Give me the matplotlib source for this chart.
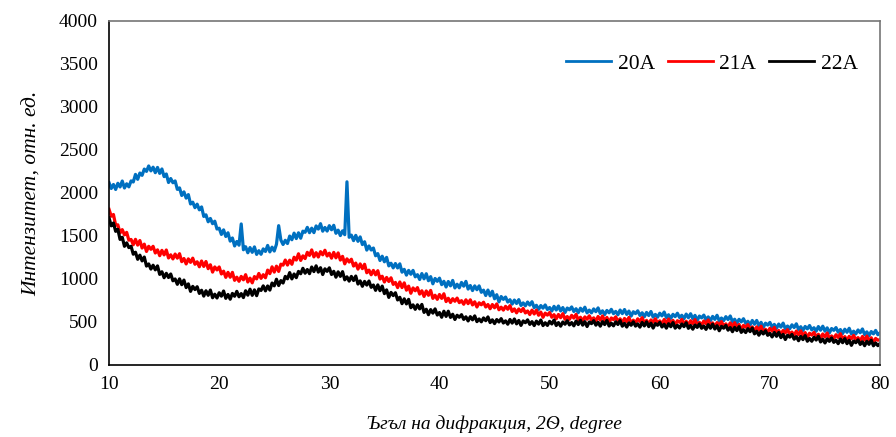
import numpy as np
import matplotlib
matplotlib.use("Agg")
import matplotlib.pyplot as plt

plt.rcParams['font.family'] = ['Liberation Serif', 'DejaVu Serif']

# scan positions, 2theta step 0.2 deg
two_theta = np.linspace(10, 80, 351)

s20A = [
    2120, 2052, 2099, 2041, 2113,
    2070, 2139, 2058, 2107, 2071,
    2140, 2128, 2216, 2159, 2232,
    2205, 2278, 2251, 2314, 2257,
    2300, 2236, 2297, 2228, 2279,
    2190, 2221, 2122, 2168, 2119,
    2140, 2042, 2059, 1971, 2013,
    1940, 1981, 1872, 1893, 1829,
    1870, 1804, 1838, 1727, 1746,
    1665, 1704, 1643, 1672, 1581,
    1590, 1518, 1571, 1494, 1537,
    1440, 1477, 1384, 1436, 1393,
    1640, 1340, 1375, 1305, 1365,
    1310, 1373, 1286, 1329, 1287,
    1350, 1320, 1390, 1315, 1370,
    1325, 1404, 1620, 1452, 1401,
    1450, 1412, 1499, 1456, 1533,
    1470, 1537, 1474, 1556, 1543,
    1600, 1538, 1591, 1539, 1617,
    1580, 1643, 1556, 1599, 1557,
    1620, 1572, 1624, 1531, 1568,
    1505, 1560, 1515, 2130, 1485,
    1510, 1446, 1507, 1438, 1489,
    1400, 1433, 1336, 1384, 1337,
    1360, 1270, 1295, 1215, 1265,
    1200, 1251, 1152, 1183, 1129,
    1180, 1128, 1176, 1079, 1112,
    1045, 1100, 1055, 1100, 1025,
    1050, 994, 1063, 1002, 1061,
    980, 1027, 944, 1006, 973,
    1010, 934, 973, 907, 971,
    920, 983, 896, 939, 897,
    960, 916, 972, 883, 924,
    865, 920, 875, 920, 845,
    870, 808, 871, 804, 857,
    770, 817, 734, 796, 763,
    790, 732, 759, 708, 755,
    715, 760, 692, 722, 688,
    732, 696, 736, 666, 694,
    646, 691, 661, 698, 645,
    668, 628, 682, 639, 686,
    628, 668, 610, 662, 642,
    675, 622, 654, 608, 660,
    625, 672, 606, 638, 606,
    652, 620, 664, 598, 630,
    586, 634, 607, 647, 597,
    623, 584, 639, 597, 645,
    588, 627, 568, 619, 598,
    630, 576, 607, 560, 611,
    575, 622, 556, 588, 556,
    602, 571, 616, 551, 584,
    541, 589, 562, 602, 552,
    578, 538, 592, 549, 596,
    538, 577, 518, 569, 548,
    580, 527, 559, 513, 565,
    530, 578, 513, 546, 515,
    562, 528, 570, 502, 532,
    486, 531, 501, 538, 485,
    508, 466, 518, 473, 518,
    458, 496, 436, 486, 464,
    495, 441, 472, 425, 476,
    440, 487, 421, 453, 421,
    467, 435, 479, 413, 445,
    401, 448, 420, 459, 408,
    433, 393, 447, 404, 451,
    393, 432, 373, 424, 403,
    435, 381, 412, 365, 416,
    380, 427, 361, 393, 361,
    407, 375, 419, 353, 385,
    341, 389, 362, 402, 352,
    375,
]

s21A = [
    1810, 1730, 1750, 1625, 1630,
    1535, 1574, 1513, 1542, 1451,
    1460, 1398, 1461, 1394, 1447,
    1360, 1405, 1320, 1380, 1345,
    1380, 1302, 1339, 1271, 1333,
    1280, 1337, 1244, 1281, 1233,
    1290, 1242, 1294, 1201, 1238,
    1175, 1234, 1193, 1242, 1171,
    1200, 1142, 1209, 1146, 1203,
    1120, 1165, 1080, 1140, 1105,
    1140, 1058, 1091, 1019, 1077,
    1020, 1077, 984, 1021, 973,
    1030, 990, 1050, 965, 1010,
    955, 1028, 1001, 1064, 1007,
    1050, 1014, 1103, 1062, 1141,
    1080, 1149, 1088, 1172, 1161,
    1220, 1162, 1219, 1171, 1253,
    1220, 1293, 1216, 1269, 1237,
    1310, 1274, 1338, 1257, 1306,
    1255, 1318, 1281, 1334, 1267,
    1300, 1242, 1309, 1246, 1303,
    1220, 1263, 1176, 1234, 1197,
    1230, 1150, 1185, 1115, 1175,
    1120, 1171, 1072, 1103, 1049,
    1100, 1048, 1096, 999, 1032,
    965, 1018, 971, 1014, 937,
    960, 900, 965, 900, 955,
    870, 917, 834, 896, 863,
    900, 824, 863, 797, 861,
    810, 867, 774, 811, 763,
    820, 774, 828, 737, 776,
    726, 771, 741, 778, 725,
    748, 706, 758, 713, 758,
    698, 735, 674, 723, 700,
    730, 674, 703, 654, 703,
    665, 710, 642, 672, 638,
    682, 648, 690, 622, 652,
    606, 651, 621, 658, 605,
    628, 586, 638, 593, 638,
    578, 615, 554, 603, 580,
    610, 555, 585, 537, 587,
    550, 597, 531, 563, 531,
    577, 545, 589, 523, 555,
    511, 559, 532, 572, 522,
    548, 509, 564, 522, 570,
    513, 553, 495, 547, 527,
    560, 506, 537, 490, 541,
    505, 553, 488, 521, 490,
    537, 506, 551, 486, 519,
    476, 524, 497, 537, 487,
    513, 474, 529, 487, 535,
    478, 519, 462, 515, 496,
    530, 477, 509, 463, 515,
    480, 528, 463, 496, 465,
    512, 480, 524, 458, 490,
    446, 493, 465, 504, 453,
    478, 437, 490, 446, 492,
    433, 471, 411, 461, 439,
    470, 414, 443, 394, 443,
    405, 451, 384, 415, 382,
    427, 394, 437, 370, 401,
    356, 402, 373, 411, 359,
    383, 342, 395, 351, 397,
    338, 377, 318, 369, 348,
    380, 326, 357, 310, 361,
    325, 372, 306, 338, 306,
    352, 320, 364, 298, 330,
    286, 333, 305, 344, 293,
    318, 278, 332, 289, 336,
    278, 317, 258, 309, 288,
    295,
]

s22A = [
    1710, 1618, 1651, 1554, 1577,
    1460, 1485, 1380, 1420, 1365,
    1380, 1288, 1311, 1229, 1277,
    1210, 1255, 1150, 1175, 1115,
    1160, 1106, 1152, 1053, 1084,
    1015, 1066, 1017, 1058, 979,
    1000, 938, 1001, 934, 987,
    900, 943, 856, 914, 877,
    910, 832, 869, 801, 863,
    810, 871, 782, 823, 779,
    840, 800, 860, 775, 820,
    765, 832, 799, 856, 793,
    830, 784, 863, 812, 881,
    810, 873, 806, 884, 867,
    920, 862, 919, 871, 953,
    920, 997, 924, 981, 953,
    1030, 1002, 1074, 1001, 1058,
    1015, 1088, 1061, 1124, 1067,
    1110, 1062, 1139, 1086, 1153,
    1080, 1131, 1052, 1118, 1089,
    1130, 1052, 1089, 1021, 1083,
    1030, 1085, 990, 1025, 975,
    1030, 982, 1034, 941, 978,
    915, 972, 929, 976, 903,
    930, 868, 931, 864, 917,
    830, 873, 786, 844, 807,
    840, 756, 787, 713, 769,
    710, 763, 666, 699, 647,
    700, 652, 704, 611, 648,
    585, 644, 603, 652, 581,
    610, 555, 625, 565, 625,
    553, 590, 529, 578, 555,
    585, 530, 560, 512, 562,
    525, 571, 504, 535, 502,
    547, 515, 559, 493, 525,
    481, 528, 500, 539, 488,
    513, 474, 529, 487, 535,
    478, 518, 460, 512, 492,
    525, 472, 504, 458, 510,
    475, 523, 458, 491, 460,
    507, 477, 523, 459, 493,
    451, 500, 474, 515, 466,
    493, 455, 511, 470, 519,
    463, 504, 447, 500, 481,
    515, 463, 496, 451, 504,
    470, 518, 453, 486, 455,
    502, 471, 516, 451, 484,
    441, 489, 462, 502, 452,
    478, 440, 495, 454, 502,
    446, 486, 429, 481, 462,
    495, 442, 474, 428, 480,
    445, 493, 428, 461, 430,
    477, 446, 491, 426, 459,
    416, 464, 437, 477, 427,
    453, 414, 469, 427, 475,
    418, 457, 398, 449, 428,
    460, 405, 435, 387, 437,
    400, 446, 379, 410, 377,
    422, 388, 430, 362, 392,
    346, 391, 361, 398, 345,
    368, 326, 378, 333, 378,
    318, 356, 296, 346, 324,
    355, 300, 330, 282, 332,
    295, 342, 276, 308, 276,
    322, 290, 334, 268, 300,
    256, 303, 275, 314, 263,
    288, 248, 302, 259, 306,
    248, 287, 228, 279, 259,
    292, 239, 270, 224, 275,
    240, 288, 223, 256, 225,
    250,
]

series = [("20A", s20A, "#0070C0"), ("21A", s21A, "#FF0000"), ("22A", s22A, "#000000")]

fig = plt.figure(figsize=(8.96, 4.37), dpi=100)
ax = fig.add_axes([0.1217, 0.1648, 0.8605, 0.7872])

for name, vals, col in series:
    ax.plot(two_theta, vals, color=col, lw=2.3, label=name)

ax.set_xlim(10, 80)
ax.set_ylim(0, 4000)
ax.set_xticks(range(10, 81, 10))
ax.set_yticks(range(0, 4001, 500))
ax.tick_params(length=0, labelsize=14, pad=8)

ax.spines['left'].set_color('black')
ax.spines['bottom'].set_color('black')
ax.spines['top'].set_color('#767676')
ax.spines['right'].set_color('#767676')
for s in ax.spines.values():
    s.set_linewidth(1.2)

ax.set_xlabel("Ъгъл на дифракция, 2Ѳ, degree", fontsize=14, style='italic', labelpad=16)
ax.set_ylabel("Интензитет, отн. ед.", fontsize=15.5, style='italic', labelpad=12)

leg = ax.legend(loc='center right', ncol=3, frameon=False, fontsize=15.5,
                handlelength=2.1, columnspacing=0.6, handletextpad=0.3,
                borderpad=0, bbox_to_anchor=(0.985, 0.875))
for h in leg.get_lines():
    h.set_linewidth(2)

fig.savefig("out.png", dpi=100)
